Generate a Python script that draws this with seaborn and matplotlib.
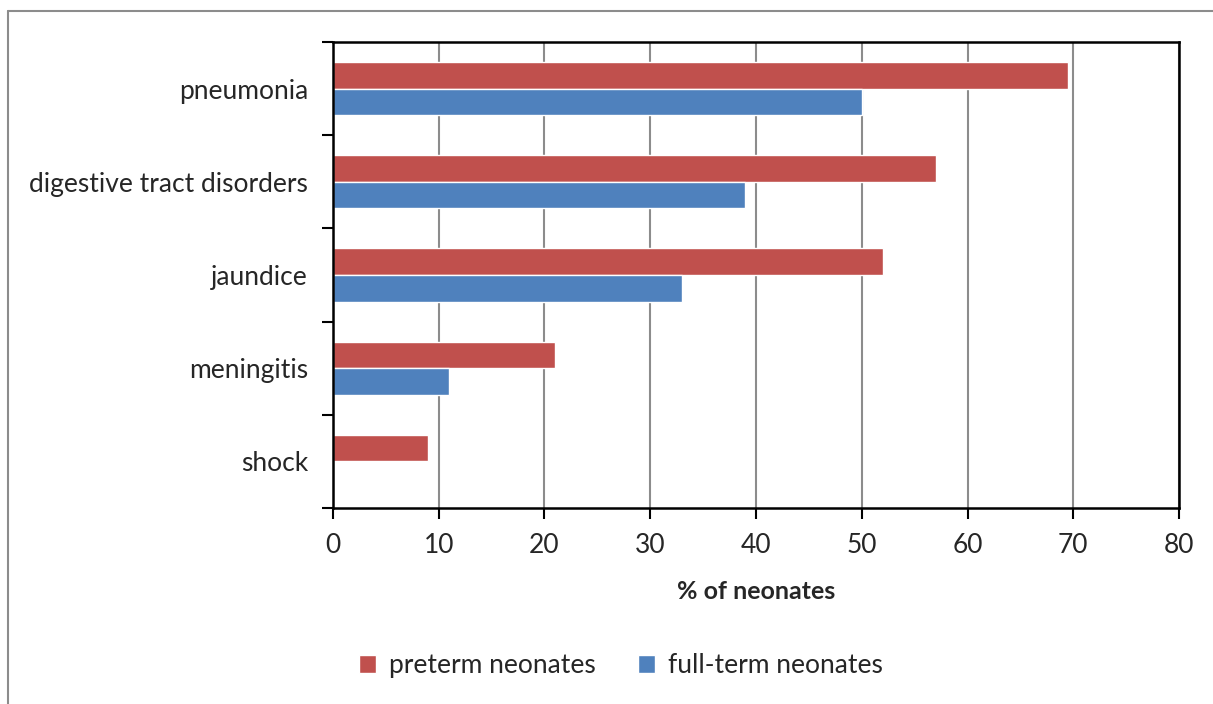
import matplotlib
matplotlib.use("Agg")
import matplotlib.pyplot as plt
import seaborn as sns
import pandas as pd
from matplotlib.lines import Line2D
from matplotlib.ticker import FixedLocator

categories = ["pneumonia", "digestive tract disorders", "jaundice", "meningitis", "shock"]
preterm = [69.5, 57, 52, 21, 9]
fullterm = [50, 39, 33, 11, 0]
series_names = ["preterm neonates", "full-term neonates"]
x_ticks = [0, 10, 20, 30, 40, 50, 60, 70, 80]

df = pd.DataFrame({
    "condition": categories * 2,
    "group": [series_names[0]] * len(categories) + [series_names[1]] * len(categories),
    "value": preterm + fullterm,
})

sns.set_style("white")
plt.rcParams["font.family"] = ["Lato", "DejaVu Sans"]

fig = plt.figure(figsize=(12.13, 7.04), dpi=100)
ax = fig.add_axes([0.2745, 0.2784, 0.6975, 0.6619])

colors = {"preterm neonates": "#C0504D", "full-term neonates": "#4F81BD"}
sns.barplot(data=df, x="value", y="condition", hue="group", order=categories,
            hue_order=series_names, palette=colors, orient="h", width=0.57,
            saturation=1, ax=ax, legend=True)

ax.set_xlim(0, 80)
ax.set_ylim(len(categories) - 0.5, -0.5)
ax.set_xticks(x_ticks)
ax.set_xticklabels([str(t) for t in x_ticks], fontsize=19)
ax.tick_params(axis="x", bottom=True, direction="out", length=8, width=1.5,
               color="black", pad=10)
ax.tick_params(axis="y", which="major", left=False, length=0, pad=18, labelsize=19)
ax.yaxis.set_minor_locator(FixedLocator([i - 0.5 for i in range(len(categories) + 1)]))
ax.tick_params(axis="y", which="minor", left=True, direction="out", length=8,
               width=1.5, color="black")

ax.grid(axis="x", color="#8c8c8c", linewidth=1.5)
ax.set_axisbelow(True)
for s in ax.spines.values():
    s.set_visible(True)
    s.set_color("black")
    s.set_linewidth(1.8)

ax.set_ylabel("")
ax.set_xlabel("% of neonates", fontsize=18, fontweight="bold", labelpad=16)

handles, labels = ax.get_legend_handles_labels()
ax.get_legend().remove()
fig.legend(handles, labels, loc="center", bbox_to_anchor=(0.512, 0.054), ncol=2,
           frameon=False, fontsize=19, handlelength=0.65, handleheight=0.65,
           handletextpad=0.5, columnspacing=1.6)

# outer chart border (top and left edges visible)
fig.add_artist(Line2D([8 / 1213, 1.0], [1 - 11 / 704, 1 - 11 / 704],
                      transform=fig.transFigure, color="#8c8c8c", linewidth=1.5))
fig.add_artist(Line2D([8 / 1213, 8 / 1213], [0, 1 - 11 / 704],
                      transform=fig.transFigure, color="#8c8c8c", linewidth=1.5))

fig.savefig("out.png", dpi=100)
